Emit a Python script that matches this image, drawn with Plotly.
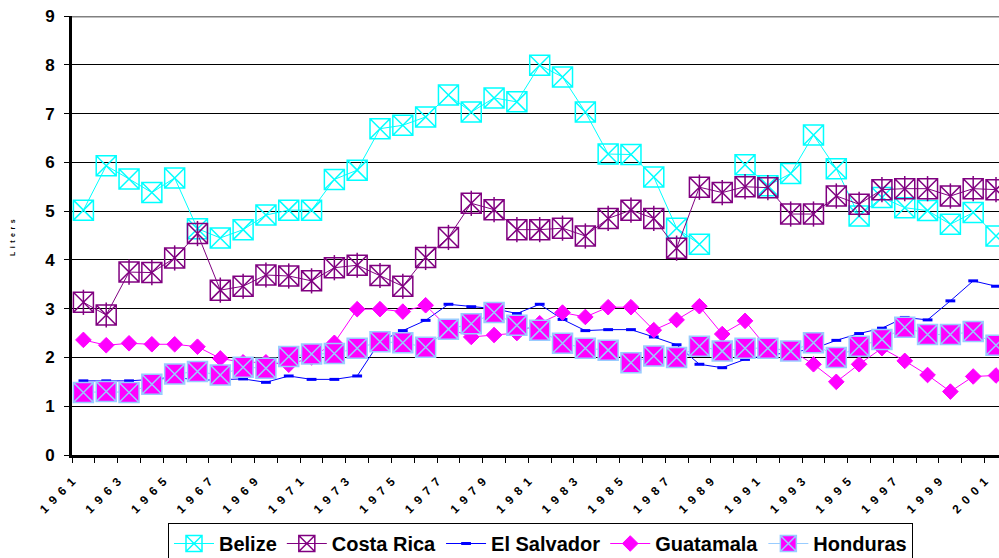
import plotly.graph_objects as go

# Per-capita consumption, litres, 1961-2001
years = list(range(1961, 2002))

belize = [5.02, 5.93, 5.66, 5.38, 5.68, 4.64, 4.45, 4.62, 4.92, 5.02,
          5.02, 5.65, 5.84, 6.69, 6.76, 6.93, 7.38, 7.03, 7.32, 7.24,
          7.99, 7.75, 7.03, 6.17, 6.16, 5.70, 4.65, 4.32, None, 5.95,
          5.52, 5.77, 6.56, 5.87, 4.90, 5.28, 5.07, 5.01, 4.73, 4.97,
          4.49]

costa_rica = [3.13, 2.87, 3.75, 3.74, 4.04, 4.54, 3.38, 3.46, 3.69, 3.67,
              3.57, 3.84, 3.89, 3.68, 3.46, 4.05, 4.46, 5.16, 5.03, 4.62,
              4.62, 4.65, 4.49, 4.85, 5.02, 4.85, 4.24, 5.49, 5.38, 5.50,
              5.48, 4.94, 4.94, 5.31, 5.14, 5.44, 5.46, 5.46, 5.31, 5.46,
              5.44]

el_salvador = [1.52, 1.52, 1.52, 1.55, 1.60, 1.53, 1.55, 1.56, 1.49, 1.62,
               1.55, 1.55, 1.62, 2.33, 2.55, 2.76, 3.09, 3.04, 3.00, 2.90,
               3.09, 2.78, 2.55, 2.57, 2.57, 2.42, 2.26, 1.86, 1.79, 1.96,
               2.05, 2.10, 2.18, 2.35, 2.49, 2.60, 2.82, 2.77, 3.16, 3.57,
               3.46]

guatamala = [2.36, 2.25, 2.29, 2.27, 2.27, 2.22, 1.98, 1.90, 1.90, 1.85,
             2.00, 2.30, 2.99, 2.99, 2.94, 3.07, 2.60, 2.42, 2.46, 2.50,
             2.70, 2.92, 2.83, 3.03, 3.03, 2.56, 2.77, 3.05, 2.48, 2.75,
             2.18, 2.15, 1.86, 1.50, 1.86, 2.19, 1.93, 1.64, 1.30, 1.61,
             1.63]

honduras = [1.28, 1.30, 1.28, 1.45, 1.66, 1.71, 1.64, 1.80, 1.78, 2.02,
            2.07, 2.08, 2.19, 2.32, 2.30, 2.21, 2.58, 2.69, 2.92, 2.66,
            2.56, 2.29, 2.19, 2.15, 1.89, 2.03, 2.00, 2.23, 2.13, 2.19,
            2.19, 2.13, 2.30, 2.00, 2.23, 2.37, 2.62, 2.47, 2.47, 2.53,
            2.25]

y_ticks = list(range(0, 10))

FONT = "Liberation Sans, Arial, sans-serif"
ESP = "\u2002"

idx = list(range(len(years)))

fig = go.Figure()

fig.add_trace(go.Scatter(
    x=idx, y=belize, name="Belize", mode="lines+markers",
    line=dict(color="#00FFFF", width=1),
    marker=dict(symbol="square-x-open", size=20, color="#00FFFF",
                line=dict(color="#00FFFF", width=1.5)),
    connectgaps=False,
))

fig.add_trace(go.Scatter(
    x=idx, y=costa_rica, name="Costa Rica", mode="lines+markers",
    line=dict(color="#800080", width=1),
    marker=dict(symbol="square-x-open", size=20, color="#800080",
                line=dict(color="#800080", width=1.5)),
))
# vertical stroke completing the asterisk inside the Costa Rica squares
fig.add_trace(go.Scatter(
    x=idx, y=costa_rica, mode="markers", showlegend=False, hoverinfo="skip",
    marker=dict(symbol="line-ns-open", size=18, color="#800080",
                line=dict(color="#800080", width=1.5)),
))

fig.add_trace(go.Scatter(
    x=idx, y=el_salvador, name="El Salvador", mode="lines+markers",
    line=dict(color="#0000FF", width=1),
    marker=dict(symbol="line-ew-open", size=7, color="#0000FF",
                line=dict(color="#0000FF", width=3)),
))

fig.add_trace(go.Scatter(
    x=idx, y=guatamala, name="Guatamala", mode="lines+markers",
    line=dict(color="#FF00FF", width=1),
    marker=dict(symbol="diamond", size=12, color="#FF00FF",
                line=dict(color="#FF00FF", width=1)),
))

fig.add_trace(go.Scatter(
    x=idx, y=honduras, name="Honduras", mode="lines+markers",
    line=dict(color="#99CCFF", width=1),
    marker=dict(symbol="square-x", size=20, color="#FF00FF",
                line=dict(color="#99CCFF", width=1.5)),
))

# category boundaries carry the ticks; every other one carries a year label
tick_pos = [k - 0.5 for k in range(len(years) + 1)]
tick_txt = [ESP.join(str(years[k])) if (k < len(years) and k % 2 == 0) else ""
            for k in range(len(years) + 1)]

pitch = 22.815
left_px, right_px = 72, 999

fig.update_layout(
    width=999, height=558,
    margin=dict(l=left_px, r=0, t=16, b=103, autoexpand=False),
    paper_bgcolor="white", plot_bgcolor="white",
    font=dict(family=FONT, color="black"),
    showlegend=True,
    legend=dict(
        orientation="h",
        x=(168 - left_px) / (right_px - left_px), xanchor="left",
        y=-(523 - 455) / 439.0, yanchor="top",
        bordercolor="black", borderwidth=1, bgcolor="white",
        font=dict(family=FONT, size=20, weight="bold", color="black"),
        itemwidth=40, traceorder="normal",
    ),
    xaxis=dict(
        range=[-0.5, -0.5 + (right_px - left_px) / pitch],
        tickmode="array", tickvals=tick_pos, ticktext=tick_txt,
        tickangle=-45, ticks="outside", ticklen=5, tickwidth=1, tickcolor="black",
        tickfont=dict(family=FONT, size=12, weight="bold", color="black"),
        ticklabelstandoff=7,
        showgrid=False, zeroline=False,
        showline=True, linecolor="black", linewidth=3,
    ),
    yaxis=dict(
        range=[0, 9], tickmode="array", tickvals=y_ticks,
        ticks="outside", ticklen=5, tickwidth=1, tickcolor="black",
        tickfont=dict(family=FONT, size=17, weight="bold", color="black"),
        ticklabelstandoff=6,
        showgrid=True, gridcolor="black", gridwidth=1,
        zeroline=False,
        showline=True, linecolor="black", linewidth=3,
    ),
    shapes=[dict(type="line", xref="paper", yref="y", x0=0, x1=1, y0=9, y1=9,
                 line=dict(color="#808080", width=3))],
    annotations=[dict(
        text=ESP.join("Liters"), textangle=-90, showarrow=False,
        xref="paper", yref="paper",
        x=(13 - left_px) / (right_px - left_px), xanchor="center",
        y=(455 - 238) / 439.0, yanchor="middle",
        font=dict(family=FONT, size=7, weight="bold", color="black"),
    )],
)

fig.write_html("out.html")
